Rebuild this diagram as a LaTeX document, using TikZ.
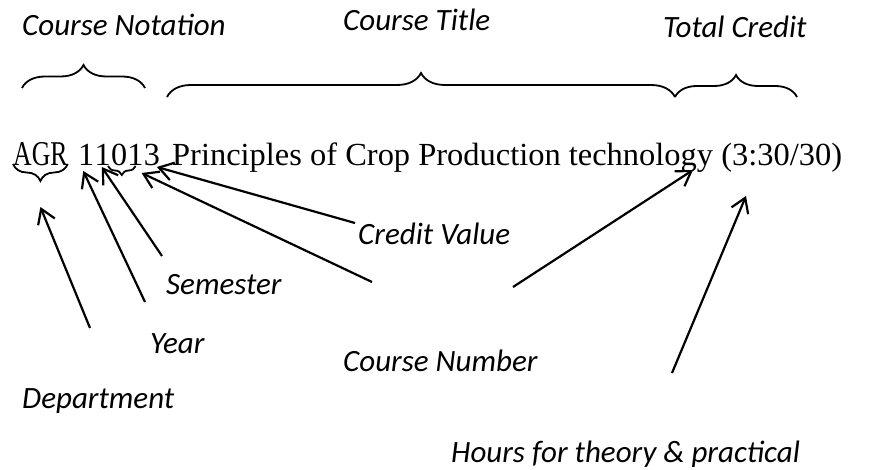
\documentclass[tikz,border=0pt]{standalone}
\usepackage{fontspec}
\setmainfont{Liberation Serif}
\newfontfamily\labelfont{Carlito}
\usetikzlibrary{arrows.meta,decorations.pathreplacing,calc}

\tikzset{
  part/.style={font=\labelfont\itshape\fontsize{31}{37}\selectfont, inner sep=0pt, anchor=base west},
  code/.style={font=\fontsize{32.2}{38}\selectfont, inner sep=0pt, anchor=base west},
  pointer/.style={line width=2.2pt, -{Straight Barb[length=14pt,width=18pt,line width=2.2pt]}},
  topbrace/.style={line width=1.8pt, decorate, decoration={brace, amplitude=#1}},
  lowbrace/.style={line width=1.8pt, decorate, decoration={brace, mirror, amplitude=#1}}
}

\begin{document}
\begin{tikzpicture}[x=1pt,y=-1pt]
\useasboundingbox (0,0) rectangle (876,470);

% headings above the course code
\node[part] (notation) at (22,36) {Course Notation};
\node[part] (title)    at (343,31) {Course Title};
\node[part] (total)    at (663,38) {Total Credit};

% braces grouping the parts of the code
\coordinate (nA) at (22,88);   \coordinate (nB) at (145,88);
\coordinate (tA) at (167,97);  \coordinate (tB) at (675,97);
\coordinate (cA) at (675,97);  \coordinate (cB) at (797,97);
\draw[topbrace=23] (nA) -- (nB);
\draw[topbrace=24] (tA) -- (tB);
\draw[topbrace=22] (cA) -- (cB);

% the course code, set piece by piece so each part has a name
\node[code] (dep)  at (13,166) {\scalebox{0.8}[1.08]{AGR}};
\node[code] (yr)   at (78,166) {1};
\node[code] (sm)   at (yr.base east) {1};
\node[code] (num)  at (sm.base east) {01};
\node[code] (cv)   at (num.base east) {3};
\node[code] (rest) at (172,166) {\scalebox{1.008}[1]{Principles of Crop Production technology (3:30/30)}};

% small braces under the department letters and the course digits
\draw[lowbrace=17] ($(dep.base west)+(0,-2)$) -- ($(dep.base east)+(0,-2)$);
\draw[lowbrace=9] ($(num.base west)+(-3,0)$) -- ($(num.base east)+(-8,0)$);

% labels below
\node[part] (credit)  at (358,245) {Credit Value};
\node[part] (sem)     at (166,295) {Semester};
\node[part] (year)    at (150,354) {Year};
\node[part] (number)  at (343,372) {Course Number};
\node[part] (dept)    at (22,409)  {Department};
\node[part] (hours)   at (451,462) {Hours for theory \& practical};

% pointer ends
\coordinate (dTail) at (90,328);   \coordinate (dTip) at ($(dep.base)+(0,41)$);
\coordinate (yTail) at (145,302);  \coordinate (yTip) at ($(yr.base)+(-3,5)$);
\coordinate (sTail) at (162,256);  \coordinate (sTip) at ($(sm.base)+(-1,1)$);
\coordinate (nTail) at (372,282);  \coordinate (nTip) at ($(num.base east)+(-2,7)$);
\coordinate (vTail) at (355,223);  \coordinate (vTip) at ($(cv.base)+(5,1)$);
\coordinate (gTail) at (513,287);  \coordinate (gTip) at (693,170);
\coordinate (hTail) at (672,373);  \coordinate (hTip) at (746,196);

\draw[pointer] (dTail) -- (dTip);
\draw[pointer] (yTail) -- (yTip);
\draw[pointer] (sTail) -- (sTip);
\draw[pointer] (nTail) -- (nTip);
\draw[pointer] (vTail) -- (vTip);
\draw[pointer] (gTail) -- (gTip);
\draw[pointer] (hTail) -- (hTip);
\end{tikzpicture}
\end{document}
